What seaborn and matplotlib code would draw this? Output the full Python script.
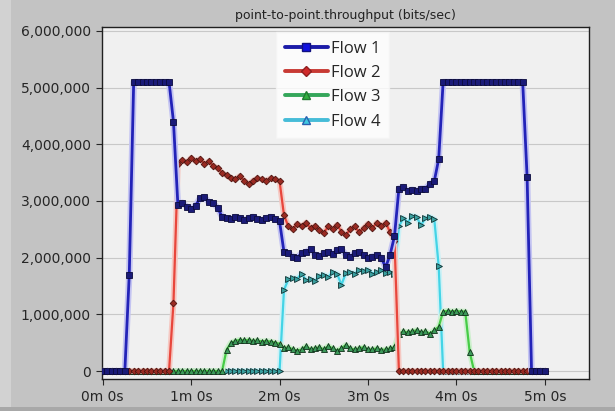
import matplotlib
matplotlib.use("Agg")
import matplotlib.pyplot as plt
from matplotlib.lines import Line2D
from matplotlib.patches import Rectangle
import numpy as np
import pandas as pd
import seaborn as sns

# ---------------- data (throughput in Mbit/s, sampled every 3 s) ----------------
time_s = list(range(0, 301, 3))

flow1 = [0, 0, 0, 0, 0, 0, 1.70, 5.10, 5.10, 5.10, 5.10, 5.10, 5.10, 5.10, 5.10, 5.10,
         4.40, 2.93, 2.97, 2.90, 2.86, 2.92, 3.05, 3.07, 2.98, 2.96, 2.88, 2.72, 2.70, 2.68,
         2.72, 2.70, 2.66, 2.70, 2.72, 2.68, 2.66, 2.70, 2.72, 2.68, 2.64, 2.10, 2.08, 2.02,
         2.00, 2.08, 2.10, 2.15, 2.05, 2.03, 2.08, 2.10, 2.06, 2.14, 2.15, 2.05, 2.02, 2.08,
         2.10, 2.04, 2.00, 2.02, 2.05, 2.00, 1.83, 2.05, 2.38, 3.22, 3.25, 3.18, 3.20, 3.18,
         3.22, 3.22, 3.30, 3.35, 3.74, 5.10, 5.10, 5.10, 5.10, 5.10, 5.10, 5.10, 5.10, 5.10,
         5.10, 5.10, 5.10, 5.10, 5.10, 5.10, 5.10, 5.10, 5.10, 5.10, 3.42, 0, 0, 0, 0]

flow2 = [0, 0, 0, 0, 0, 0, 0, 0, 0, 0, 0, 0, 0, 0, 0, 0,
         1.20, 3.65, 3.72, 3.68, 3.76, 3.70, 3.74, 3.66, 3.70, 3.62, 3.58, 3.50, 3.45, 3.40,
         3.38, 3.44, 3.36, 3.30, 3.36, 3.40, 3.38, 3.36, 3.40, 3.38, 3.35, 2.75, 2.55, 2.50,
         2.60, 2.55, 2.62, 2.52, 2.56, 2.48, 2.44, 2.55, 2.50, 2.58, 2.46, 2.40, 2.50, 2.55,
         2.45, 2.52, 2.60, 2.52, 2.62, 2.55, 2.62, 2.45, 2.30, 0, 0, 0, 0, 0,
         0, 0, 0, 0, 0, 0, 0, 0, 0, 0, 0, 0, 0, 0,
         0, 0, 0, 0, 0, 0, 0, 0, 0, 0, 0, 0, 0, 0, 0]

flow3 = [0, 0, 0, 0, 0, 0, 0, 0, 0, 0, 0, 0, 0, 0, 0, 0,
         0, 0, 0, 0, 0, 0, 0, 0, 0, 0, 0, 0, 0.37, 0.50,
         0.53, 0.55, 0.54, 0.55, 0.53, 0.54, 0.52, 0.53, 0.52, 0.50, 0.48, 0.40, 0.42, 0.38,
         0.36, 0.38, 0.44, 0.38, 0.40, 0.42, 0.38, 0.44, 0.40, 0.36, 0.40, 0.46, 0.40, 0.38,
         0.40, 0.42, 0.38, 0.38, 0.40, 0.37, 0.38, 0.40, 0.42, 0.66, 0.70, 0.68, 0.70, 0.72,
         0.68, 0.70, 0.66, 0.72, 0.78, 1.05, 1.06, 1.05, 1.06, 1.05, 1.05, 0.34, 0, 0,
         0, 0, 0, 0, 0, 0, 0, 0, 0, 0, 0, 0, 0, 0, 0]

flow4 = [0, 0, 0, 0, 0, 0, 0, 0, 0, 0, 0, 0, 0, 0, 0, 0,
         0, 0, 0, 0, 0, 0, 0, 0, 0, 0, 0, 0, 0, 0,
         0, 0, 0, 0, 0, 0, 0, 0, 0, 0, 0, 1.43, 1.62, 1.64,
         1.63, 1.72, 1.60, 1.62, 1.58, 1.68, 1.70, 1.66, 1.74, 1.72, 1.52, 1.73, 1.74, 1.72,
         1.78, 1.76, 1.79, 1.72, 1.74, 1.78, 1.73, 1.75, 1.72, 2.55, 2.70, 2.62, 2.74, 2.72,
         2.57, 2.70, 2.72, 2.68, 1.85, 0, 0, 0, 0, 0, 0, 0, 0, 0,
         0, 0, 0, 0, 0, 0, 0, 0, 0, 0, 0, 0, 0, 0, 0]

flow_names = ["Flow 1", "Flow 2", "Flow 3", "Flow 4"]
y_ticks = [0, 1e6, 2e6, 3e6, 4e6, 5e6, 6e6]
y_tick_labels = ["0", "1,000,000", "2,000,000", "3,000,000", "4,000,000", "5,000,000", "6,000,000"]
x_ticks = [0, 60, 120, 180, 240, 300]
x_tick_labels = ["0m 0s", "1m 0s", "2m 0s", "3m 0s", "4m 0s", "5m 0s"]
title = "point-to-point.throughput (bits/sec)"

series = {"Flow 1": flow1, "Flow 2": flow2, "Flow 3": flow3, "Flow 4": flow4}
rows = []
for name in flow_names:
    for t, v in zip(time_s, series[name]):
        rows.append({"time": t, "bps": v * 1e6, "flow": name})
df = pd.DataFrame(rows)

# ---------------- styles ----------------
styles = {
    "Flow 1": dict(color="#2323b8", lw=2.0, marker="s", mfc="#1a1a78", mec="#0c0c3c", ms=4.4,
                   glow="#c4c4f2", z=8),
    "Flow 2": dict(color="#e8463c", lw=1.6, marker="D", mfc="#9a2a22", mec="#4a1410", ms=3.4,
                   glow="#f5c8c2", z=7),
    "Flow 3": dict(color="#46cc46", lw=1.6, marker="^", mfc="#3c9a5a", mec="#10301a", ms=4.2,
                   glow="#cdefcd", z=6),
    "Flow 4": dict(color="#44d4e6", lw=1.6, marker=">", mfc="#3aa0a0", mec="#103030", ms=4.2,
                   glow="#cdf1f6", z=5),
}

sns.set_theme(style="white")
plt.rcParams["font.family"] = ["DejaVu Sans"]

fig = plt.figure(figsize=(6.15, 4.11), dpi=100)
fig.patch.set_facecolor("#c3c3c3")
# window-like border strips
fig.patches.append(Rectangle((0, 0), 11 / 615, 1, transform=fig.transFigure,
                             facecolor="#d2d2d2", edgecolor="none", zorder=0))
fig.patches.append(Rectangle((0, 0), 1, 4 / 411, transform=fig.transFigure,
                             facecolor="#a8a8a8", edgecolor="none", zorder=0))

ax = fig.add_axes([102 / 615, 1 - 379 / 411, 487 / 615, 352 / 411])
ax.set_facecolor("#f0f0f0")

for name in flow_names:
    st = styles[name]
    sub = df[df["flow"] == name]
    # soft halo under the line
    sns.lineplot(data=sub, x="time", y="bps", ax=ax, estimator=None, sort=False,
                 color=st["glow"], linewidth=st["lw"] + 2.6, zorder=st["z"] - 0.5, legend=False)
    sns.lineplot(data=sub, x="time", y="bps", ax=ax, estimator=None, sort=False,
                 color=st["color"], linewidth=st["lw"], marker=st["marker"],
                 markerfacecolor=st["mfc"], markeredgecolor=st["mec"], markersize=st["ms"],
                 markeredgewidth=0.6, zorder=st["z"], legend=False)

ax.set_xlim(-0.5, 330)
ax.set_ylim(-0.141e6, 6.07e6)
ax.set_yticks(y_ticks)
ax.set_yticklabels(y_tick_labels)
ax.set_xticks(x_ticks)
ax.set_xticklabels(x_tick_labels)
ax.set_xlabel("")
ax.set_ylabel("")
ax.yaxis.grid(True, color="#c8c8c8", linewidth=0.8)
ax.xaxis.grid(False)
ax.set_axisbelow(True)
ax.tick_params(axis="both", which="major", direction="out", length=4.5, width=0.8,
               colors="#262626", labelsize=10, left=True, bottom=True, pad=3.5)
for s in ax.spines.values():
    s.set_color("#202020")
    s.set_linewidth(1.0)

fig.text(345 / 615, 1 - 15 / 411, title, ha="center", va="center", fontsize=9, color="#222222")

# legend
leg_handles = [
    Line2D([0], [0], color="#1c1ca8", lw=2.8, marker="s", mfc="#1010e0", mec="#101080", ms=6),
    Line2D([0], [0], color="#c83a34", lw=2.8, marker="D", mfc="#d02a2a", mec="#902020", ms=5),
    Line2D([0], [0], color="#34a65a", lw=2.8, marker="^", mfc="#30b040", mec="#207a30", ms=6),
    Line2D([0], [0], color="#46bcd8", lw=2.8, marker="^", mfc="#40c8e0", mec="#2a60b0", ms=6),
]
leg = ax.legend(leg_handles, flow_names, loc="upper left", bbox_to_anchor=(0.358, 0.985),
                frameon=True, handlelength=2.6, handletextpad=0.2,
                labelspacing=0.5, borderpad=0.5, borderaxespad=0, fancybox=False,
                prop={"family": ["Open Sans", "DejaVu Sans"], "size": 12})
leg.get_frame().set_facecolor("white")
leg.get_frame().set_edgecolor("#f4f4f4")
leg.set_zorder(20)

fig.savefig("out.png", dpi=100, facecolor=fig.get_facecolor())
